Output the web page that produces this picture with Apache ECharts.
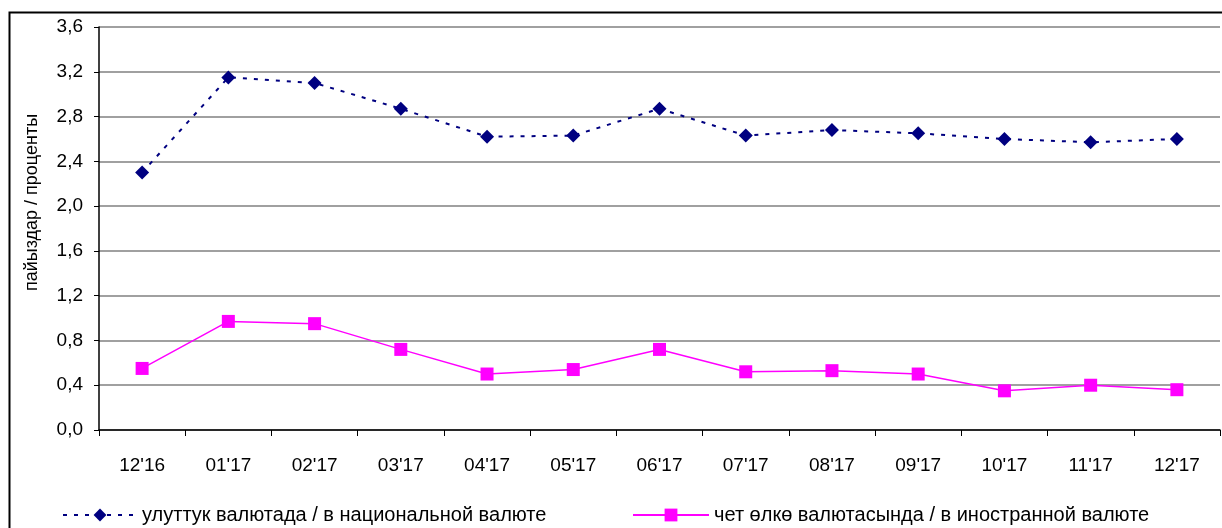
<!DOCTYPE html>
<html>
<head>
<meta charset="utf-8">
<script src="https://cdn.jsdelivr.net/npm/echarts@6/dist/echarts.min.js"></script>
<style>html,body{margin:0;padding:0;background:#fff}#c{width:1222px;height:528px}</style>
</head>
<body>
<div id="c"></div>
<script>
var categories = ["12'16","01'17","02'17","03'17","04'17","05'17","06'17","07'17","08'17","09'17","10'17","11'17","12'17"];
var nationalName = "улуттук валютада / в национальной валюте";
var foreignName = "чет өлкө валютасында / в иностранной валюте";
var nationalValues = [2.30, 3.15, 3.10, 2.87, 2.62, 2.63, 2.87, 2.63, 2.68, 2.65, 2.60, 2.57, 2.60];
var foreignValues = [0.55, 0.97, 0.95, 0.72, 0.50, 0.54, 0.72, 0.52, 0.53, 0.50, 0.35, 0.40, 0.36];
var yAxisTitle = "пайыздар / проценты";

var font = "'Liberation Sans', Arial, sans-serif";
var chart = echarts.init(document.getElementById('c'), null, {renderer: 'canvas'});
chart.setOption({
  animation: false,
  backgroundColor: '#fff',
  graphic: [{
    type: 'rect', left: 7, top: 10, z: -1,
    shape: {width: 1300, height: 600},
    style: {fill: 'none', stroke: '#000', lineWidth: 2}
  }],
  grid: {left: 99, right: 2, top: 27, bottom: 98, containLabel: false},
  xAxis: {
    type: 'category', data: categories, boundaryGap: true,
    axisLine: {lineStyle: {color: '#000', width: 1.5}},
    axisTick: {show: true, interval: 0, length: 6, lineStyle: {color: '#000'}},
    axisLabel: {color: '#000', fontFamily: font, fontSize: 19, margin: 26, interval: 0},
    splitLine: {show: false}
  },
  yAxis: {
    type: 'value', min: 0, max: 3.6, interval: 0.4,
    name: yAxisTitle, nameLocation: 'middle', nameGap: 58, nameRotate: 90,
    nameTextStyle: {color: '#000', fontFamily: font, fontSize: 18, padding: [0, 0, 0, 52]},
    axisLine: {show: true, lineStyle: {color: '#000', width: 1.5}},
    axisTick: {show: true, length: 5, lineStyle: {color: '#000'}},
    axisLabel: {color: '#000', fontFamily: font, fontSize: 19, margin: 16,
      formatter: function (v) { return v.toFixed(1).replace('.', ','); }},
    splitLine: {show: true, lineStyle: {color: '#808080', width: 1.5}}
  },
  legend: [{
    data: [nationalName], left: 57, top: 500, itemWidth: 74, itemHeight: 16, itemGap: 10,
    textStyle: {color: '#000', fontFamily: font, fontSize: 20}
  }, {
    data: [foreignName], left: 627, top: 500, itemWidth: 76, itemHeight: 16, itemGap: 10,
    textStyle: {color: '#000', fontFamily: font, fontSize: 20}
  }],
  series: [{
    name: nationalName, type: 'line', data: nationalValues,
    symbol: 'diamond', symbolSize: 14,
    itemStyle: {color: '#000080'},
    lineStyle: {color: '#000080', width: 2, type: [4, 7]}
  }, {
    name: foreignName, type: 'line', data: foreignValues,
    symbol: 'rect', symbolSize: 13,
    itemStyle: {color: '#FF00FF'},
    lineStyle: {color: '#FF00FF', width: 1.5, type: 'solid'}
  }]
});
</script>
</body>
</html>
